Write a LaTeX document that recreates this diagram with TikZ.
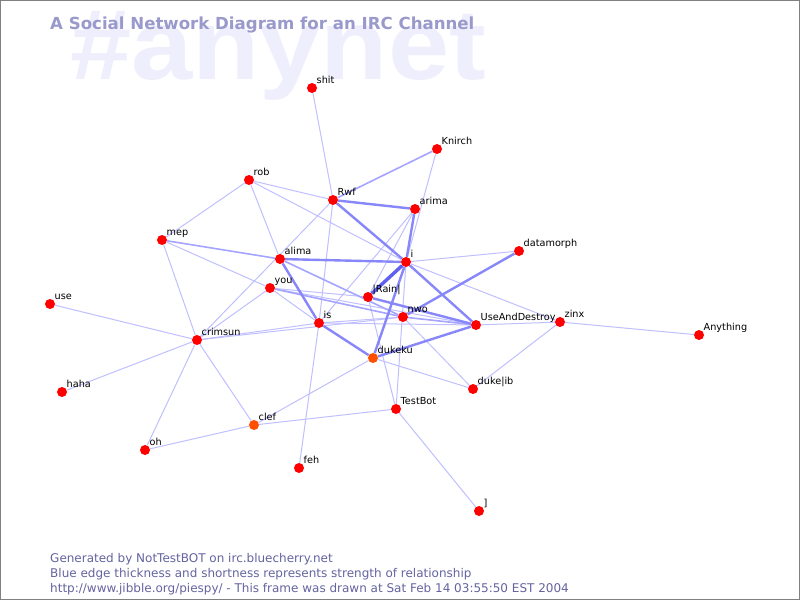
\documentclass[tikz,border=0pt]{standalone}
\usepackage{fontspec}
\setmainfont{DejaVu Sans}
\newfontfamily\bgwordfont{Liberation Sans}
\pgfdeclarelayer{bg}
\pgfdeclarelayer{edges}
\pgfsetlayers{bg,edges,main}
\definecolor{nred}{RGB}{255,0,0}
\definecolor{norange}{RGB}{255,80,0}
\definecolor{eLight}{RGB}{192,192,255}
\definecolor{eMid}{RGB}{165,165,255}
\definecolor{eStrong}{RGB}{135,135,250}
\definecolor{eMax}{RGB}{95,95,240}
\definecolor{titlec}{RGB}{153,153,204}
\definecolor{bgtext}{RGB}{238,238,252}
\definecolor{footc}{RGB}{100,100,160}
\definecolor{framec}{RGB}{128,128,128}
\tikzset{
  pnode/.style={circle, fill=nred, minimum size=10pt, inner sep=0pt},
  lbl/.style={anchor=base west, inner sep=0pt, font=\fontsize{9.7}{10}\selectfont},
  eA/.style={draw=eLight, line width=1pt},
  eB/.style={draw=eMid, line width=1.6pt},
  eC/.style={draw=eStrong, line width=2.4pt},
  eD/.style={draw=eMax, line width=3.4pt},
  foot/.style={anchor=base west, inner sep=0pt, text=footc, font=\fontsize{12}{13}\selectfont}
}
\newcommand\person[4]{%
  \node[pnode,fill=#4] (#1) at (#2) {};
  \node[lbl] (#1l) at ([shift={(4.5,-4.5)}]#1.center) {#3};}
\begin{document}
\begin{tikzpicture}[x=1pt,y=-1pt]
\useasboundingbox (0,0) rectangle (800,600);
\begin{pgfonlayer}{bg}
  \fill[white] (0,0) rectangle (800,600);
  \node[anchor=base west, inner sep=0pt, text=bgtext, font=\bgwordfont\bfseries\fontsize{100}{100}\selectfont] (bgword) at (70,79) {\scalebox{1.1}[1]{\#anynet}};
  \draw[framec, line width=1pt] (0.5,0.5) rectangle (799.5,599.5);
\end{pgfonlayer}
\node[anchor=base west, inner sep=0pt, text=titlec, font=\bfseries\fontsize{16.6}{17}\selectfont] (title) at (50,29) {A Social Network Diagram for an IRC Channel};
\node[foot] (f1) at (50,562) {Generated by NotTestBOT on irc.bluecherry.net};
\node[foot] (f2) at (50,577) {Blue edge thickness and shortness represents strength of relationship};
\node[foot] (f3) at (50,592) {http://www.jibble.org/piespy/ - This frame was drawn at Sat Feb 14 03:55:50 EST 2004};

\person{shit}{312,88}{shit}{nred}
\person{knirch}{437,149}{Knirch}{nred}
\person{rob}{249,180}{rob}{nred}
\person{rwf}{333,200}{Rwf}{nred}
\person{arima}{415,209}{arima}{nred}
\person{datamorph}{519,251}{datamorph}{nred}
\person{mep}{162,240}{mep}{nred}
\person{alima}{280,259}{alima}{nred}
\person{i}{406,262}{i}{nred}
\person{you}{270,288}{you}{nred}
\person{use}{50,304}{use}{nred}
\person{rain}{368,297}{|Rain|}{nred}
\person{nwo}{403,317}{nwo}{nred}
\person{is}{319,323}{is}{nred}
\person{uad}{476,325}{UseAndDestroy}{nred}
\person{zinx}{560,322}{zinx}{nred}
\person{anything}{699,335}{Anything}{nred}
\person{crimsun}{197,340}{crimsun}{nred}
\person{dukeku}{373,358}{dukeku}{norange}
\person{dukelib}{473,389}{duke|ib}{nred}
\person{haha}{62,392}{haha}{nred}
\person{testbot}{396,409}{TestBot}{nred}
\person{clef}{254,425}{clef}{norange}
\person{oh}{145,450}{oh}{nred}
\person{feh}{299,468}{feh}{nred}
\person{bracket}{479,511}{]}{nred}

\begin{pgfonlayer}{edges}
  % light edges
  \foreach \a/\b in {shit/rwf, knirch/i, rob/rwf, rob/i, rob/mep, rob/alima,
      mep/you, mep/crimsun, use/crimsun, haha/crimsun, oh/crimsun, crimsun/clef,
      crimsun/you, crimsun/rwf, crimsun/is, crimsun/nwo, oh/clef, clef/dukeku,
      clef/testbot, rwf/is, is/feh, testbot/bracket, testbot/rain, i/testbot,
      i/datamorph, i/zinx, uad/zinx, zinx/anything, zinx/dukelib, nwo/dukelib,
      dukeku/dukelib, arima/rain, arima/is, you/is, you/uad, is/nwo, is/uad,
      you/rain}
    \draw[eA] (\a) -- (\b);
  % medium edges
  \foreach \a/\b in {knirch/rwf, mep/alima, you/nwo, alima/nwo, nwo/uad}
    \draw[eB] (\a) -- (\b);
  % strong edges
  \foreach \a/\b in {i/arima, i/alima, i/rwf, i/dukeku, i/uad, rwf/arima,
      nwo/datamorph, dukeku/uad, alima/is, is/dukeku, rain/uad}
    \draw[eC] (\a) -- (\b);
  % strongest edge
  \draw[eD] (i) -- (rain);
\end{pgfonlayer}
\end{tikzpicture}
\end{document}
